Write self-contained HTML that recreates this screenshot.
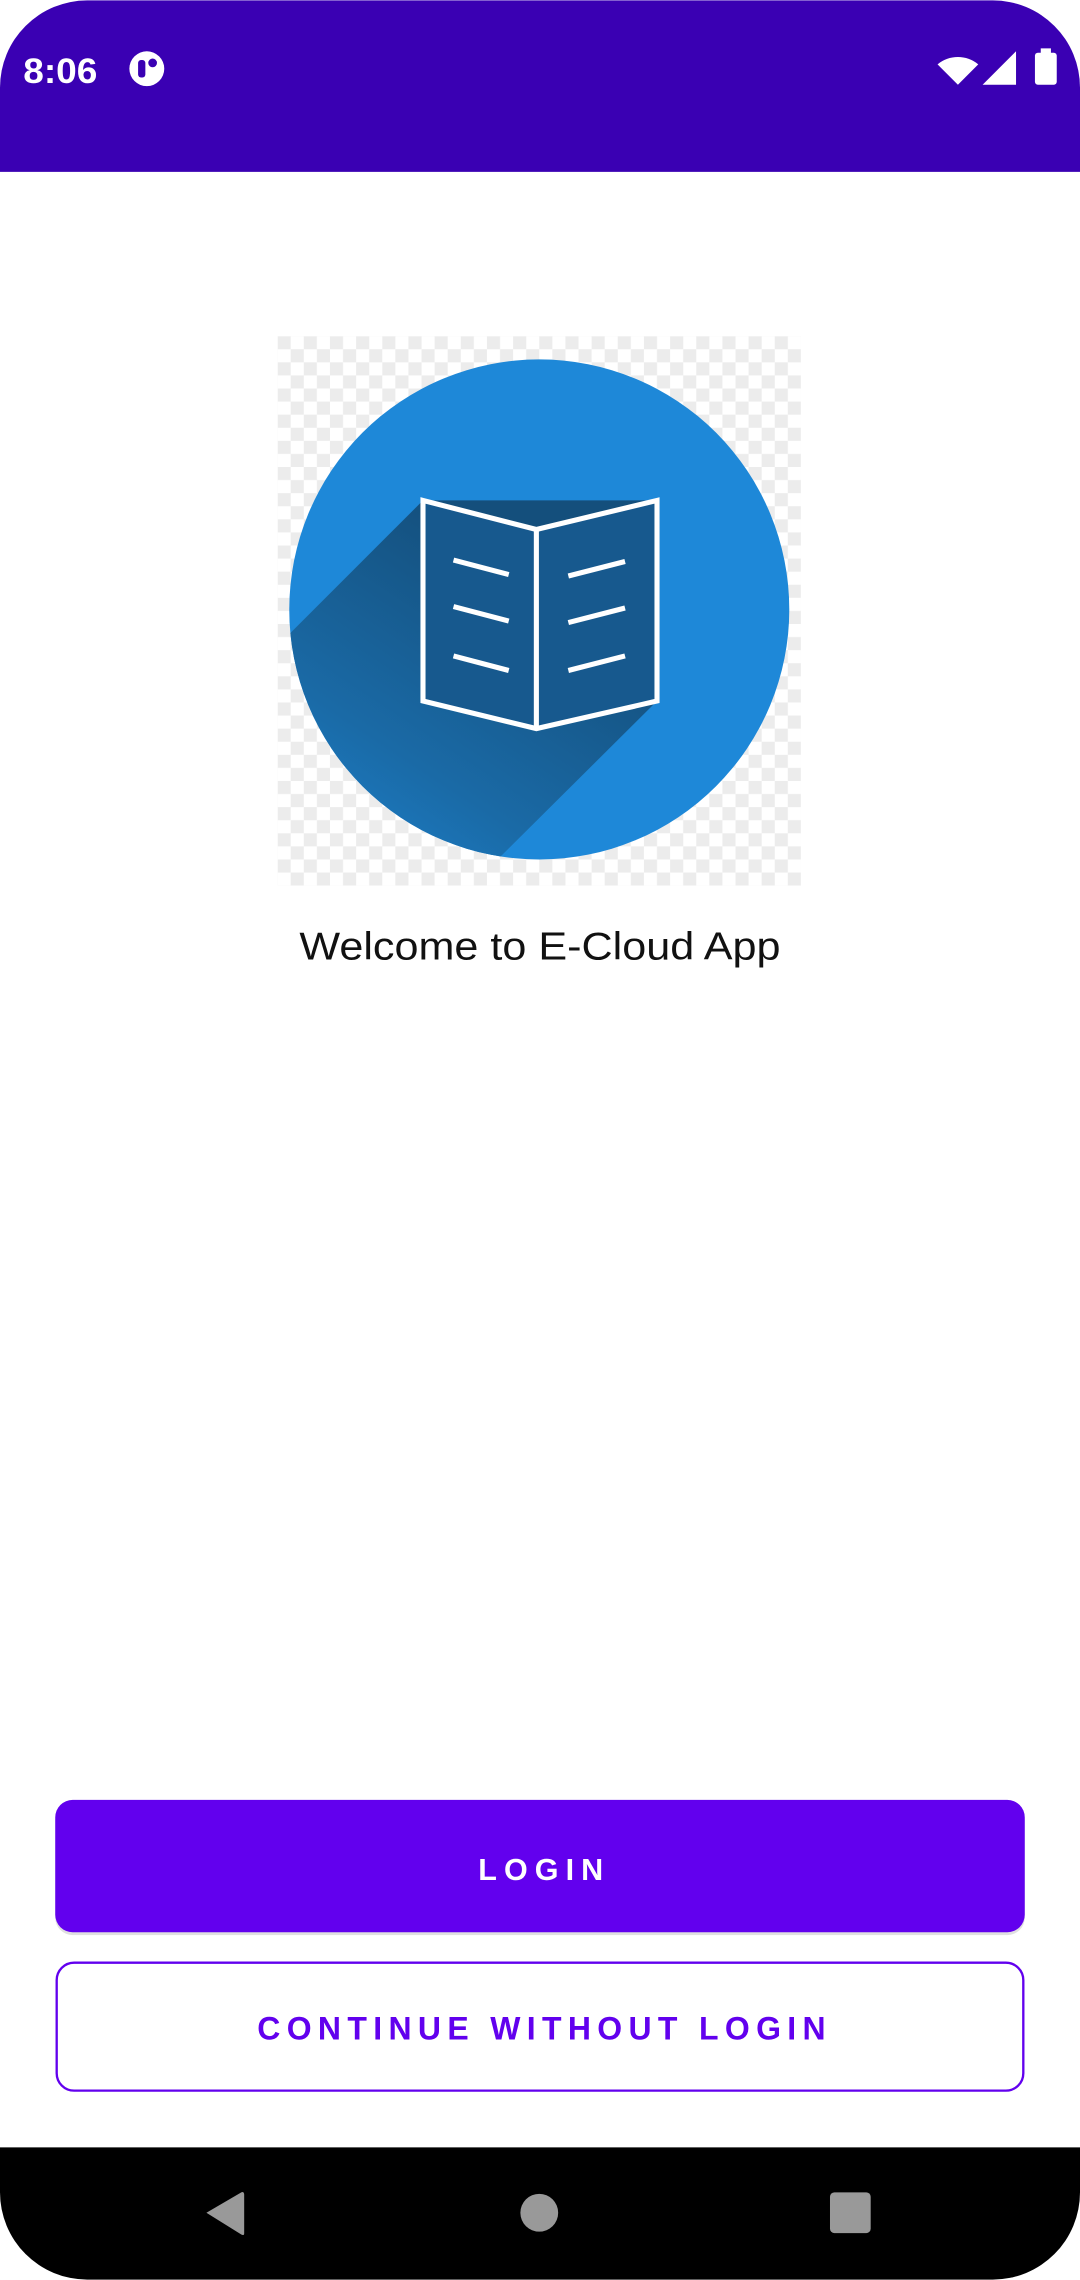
<!DOCTYPE html>
<html><head><meta charset="utf-8"><style>
html,body{margin:0;padding:0;background:#fff;}
svg{display:block;}
</style></head><body>
<svg width="1080" height="2280" viewBox="0 0 743 1568" xmlns="http://www.w3.org/2000/svg" font-family="Liberation Sans, sans-serif">
<defs>
<pattern id="chk" width="18" height="18" patternUnits="userSpaceOnUse" x="191" y="231">
<rect width="18" height="18" fill="#fff"/>
<rect width="9" height="9" fill="#ececec"/>
<rect x="9" y="9" width="9" height="9" fill="#ececec"/>
</pattern>
<clipPath id="cc"><circle cx="371" cy="419" r="172"/></clipPath>
<linearGradient id="sg" x1="0.75" y1="0.15" x2="0.2" y2="0.95">
<stop offset="0" stop-color="#144f7c"/>
<stop offset="0.55" stop-color="#1a6aa6"/>
<stop offset="1" stop-color="#1e88d8"/>
</linearGradient>
</defs>
<rect width="743" height="1568" fill="#fff"/>
<path d="M0,60 A60,60 0 0 1 60,0 L683,0 A60,60 0 0 1 743,60 L743,118 L0,118 Z" fill="#3a00b3"/>
<text x="16" y="57" font-size="24" font-weight="bold" fill="#fff" textLength="51" lengthAdjust="spacingAndGlyphs">8:06</text>
<circle cx="101" cy="47" r="12" fill="#fff"/>
<rect x="95" y="41" width="5" height="12" rx="2" fill="#3a00b3"/>
<circle cx="105" cy="43" r="3" fill="#3a00b3"/>
<path d="M645,44 A22,22 0 0 1 673,44 L659,58 Z" fill="#fff"/>
<path d="M676,58 L699,35 L699,58 Z" fill="#fff"/>
<rect x="712" y="36" width="15" height="22" rx="2" fill="#fff"/>
<rect x="716" y="33" width="7" height="4" fill="#fff"/>
<rect x="191" y="231" width="360" height="378" fill="url(#chk)"/>
<circle cx="371" cy="419" r="172" fill="#1e88d8"/>
<polygon clip-path="url(#cc)" points="291,344 140,495 290,643 452,482 452,344" fill="url(#sg)"/>
<path d="M291,344 L369,364 L452,344 L452,482 L369,501 L291,482 Z" fill="#17598e" stroke="#fff" stroke-width="3.5"/>
<line x1="369" y1="364" x2="369" y2="501" stroke="#fff" stroke-width="3.5"/>
<g stroke="#fff" stroke-width="3.5">
<line x1="312" y1="385" x2="350" y2="395"/>
<line x1="312" y1="417" x2="350" y2="427"/>
<line x1="312" y1="451" x2="350" y2="461"/>
<line x1="391" y1="396" x2="430" y2="386"/>
<line x1="391" y1="428" x2="430" y2="418"/>
<line x1="391" y1="461" x2="430" y2="451"/>
</g>
<text x="206" y="660" font-size="27" fill="#111" textLength="331" lengthAdjust="spacingAndGlyphs">Welcome to E-Cloud App</text>
<rect x="38" y="1240" width="667" height="91" rx="12" fill="#000" opacity="0.12"/>
<rect x="38" y="1238" width="667" height="91" rx="12" fill="#6200ee"/>
<text x="329" y="1293" font-size="21" font-weight="bold" fill="#fff" textLength="86" lengthAdjust="spacing">LOGIN</text>
<rect x="39" y="1350" width="665" height="88" rx="12" fill="#fff" stroke="#6200ee" stroke-width="1.6"/>
<text x="177" y="1403" font-size="22" font-weight="bold" fill="#6200ee" textLength="391" lengthAdjust="spacing">CONTINUE WITHOUT LOGIN</text>
<path d="M0,1477 L743,1477 L743,1508 A60,60 0 0 1 683,1568 L60,1568 A60,60 0 0 1 0,1508 Z" fill="#000"/>
<path d="M142,1522 L166,1508 Q168,1507 168,1510 L168,1536 Q168,1538 166,1537 Z" fill="#999"/>
<circle cx="371" cy="1522" r="13" fill="#999"/>
<rect x="571" y="1508" width="28" height="28" rx="3" fill="#999"/>
</svg>
</body></html>
